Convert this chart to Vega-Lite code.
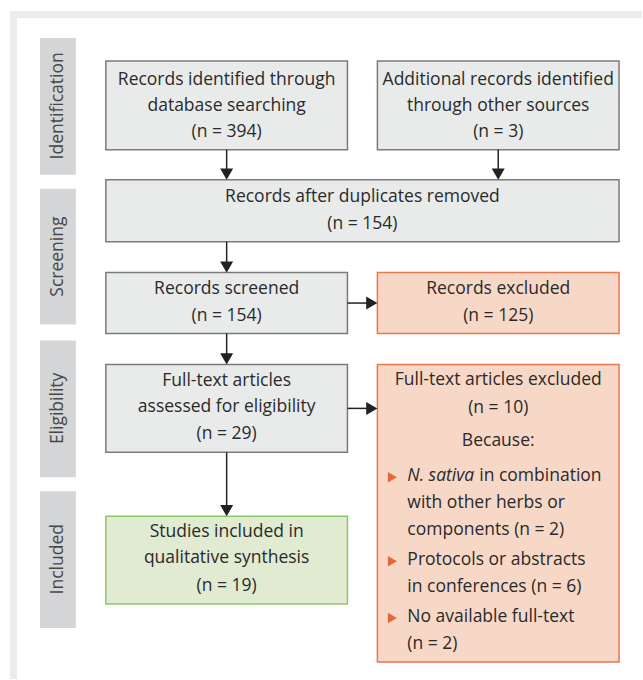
{
  "$schema": "https://vega.github.io/schema/vega-lite/v6.json",
  "autosize": {"type": "fit", "contains": "padding"},
  "width": 643,
  "height": 680,
  "padding": 0,
  "background": "#ffffff",
  "config": {"view": {"stroke": null}},
  "datasets": {
    "rects": [
      {"x1": 10, "x2": 643, "y1": 11, "y2": 680, "kind": "frame"},
      {"x1": 17, "x2": 643, "y1": 18, "y2": 680, "kind": "inner"},
      {"x1": 40, "x2": 76, "y1": 38, "y2": 175, "kind": "side"},
      {"x1": 40, "x2": 76, "y1": 189, "y2": 325, "kind": "side"},
      {"x1": 40, "x2": 76, "y1": 341, "y2": 478, "kind": "side"},
      {"x1": 40, "x2": 76, "y1": 492, "y2": 629, "kind": "side"},
      {"x1": 106, "x2": 348, "y1": 61, "y2": 150, "kind": "gray"},
      {"x1": 378, "x2": 620, "y1": 61, "y2": 150, "kind": "gray"},
      {"x1": 106, "x2": 620, "y1": 180, "y2": 242, "kind": "gray"},
      {"x1": 106, "x2": 348, "y1": 273, "y2": 334, "kind": "gray"},
      {"x1": 378, "x2": 620, "y1": 273, "y2": 334, "kind": "orange"},
      {"x1": 106, "x2": 348, "y1": 365, "y2": 453, "kind": "gray"},
      {"x1": 378, "x2": 620, "y1": 365, "y2": 663, "kind": "orange"},
      {"x1": 106, "x2": 348, "y1": 517, "y2": 605, "kind": "green"}
    ],
    "links": [
      {"x1": 227, "y1": 150, "x2": 227, "y2": 174},
      {"x1": 499, "y1": 150, "x2": 499, "y2": 174},
      {"x1": 227, "y1": 242, "x2": 227, "y2": 267},
      {"x1": 227, "y1": 334, "x2": 227, "y2": 359},
      {"x1": 227, "y1": 453, "x2": 227, "y2": 511},
      {"x1": 348, "y1": 303.5, "x2": 372, "y2": 303.5},
      {"x1": 348, "y1": 409, "x2": 372, "y2": 409}
    ],
    "heads": [
      {"x": 227, "y": 174.4, "dir": "down"},
      {"x": 499, "y": 174.4, "dir": "down"},
      {"x": 227, "y": 267.4, "dir": "down"},
      {"x": 227, "y": 359.4, "dir": "down"},
      {"x": 227, "y": 511.4, "dir": "down"},
      {"x": 372.4, "y": 303.5, "dir": "right"},
      {"x": 372.4, "y": 409, "dir": "right"}
    ],
    "bullets": [
      {"x": 393, "y": 478},
      {"x": 393, "y": 562},
      {"x": 393, "y": 619}
    ],
    "labels": [
      {"x": 227, "y": 80, "label": "Records identified through", "part": "title"},
      {"x": 227, "y": 106, "label": "database searching", "part": "title"},
      {"x": 227, "y": 132, "label": "(n = 394)", "part": "count"},
      {"x": 499, "y": 80, "label": "Additional records identified", "part": "title"},
      {"x": 499, "y": 106, "label": "through other sources", "part": "title"},
      {"x": 499, "y": 132, "label": "(n = 3)", "part": "count"},
      {"x": 363, "y": 197, "label": "Records after duplicates removed", "part": "title"},
      {"x": 363, "y": 224, "label": "(n = 154)", "part": "count"},
      {"x": 227, "y": 289, "label": "Records screened", "part": "title"},
      {"x": 227, "y": 316, "label": "(n = 154)", "part": "count"},
      {"x": 499, "y": 289, "label": "Records excluded", "part": "title"},
      {"x": 499, "y": 316, "label": "(n = 125)", "part": "count"},
      {"x": 227, "y": 382, "label": "Full-text articles", "part": "title"},
      {"x": 227, "y": 408, "label": "assessed for eligibility", "part": "title"},
      {"x": 227, "y": 435, "label": "(n = 29)", "part": "count"},
      {"x": 499, "y": 381, "label": "Full-text articles excluded", "part": "title"},
      {"x": 499, "y": 409, "label": "(n = 10)", "part": "count"},
      {"x": 499, "y": 442, "label": "Because:", "part": "title"},
      {"x": 408, "y": 477, "label": "N. sativa", "part": "species"},
      {"x": 480, "y": 477, "label": "in combination", "part": "reason"},
      {"x": 408, "y": 504, "label": "with other herbs or", "part": "reason"},
      {"x": 408, "y": 531, "label": "components (n = 2)", "part": "reason"},
      {"x": 408, "y": 561, "label": "Protocols or abstracts", "part": "reason"},
      {"x": 408, "y": 588, "label": "in conferences (n = 6)", "part": "reason"},
      {"x": 408, "y": 618, "label": "No available full-text", "part": "reason"},
      {"x": 408, "y": 645, "label": "(n = 2)", "part": "reason"},
      {"x": 227, "y": 533, "label": "Studies included in", "part": "title"},
      {"x": 227, "y": 559, "label": "qualitative synthesis", "part": "title"},
      {"x": 227, "y": 587, "label": "(n = 19)", "part": "count"}
    ],
    "stages": [
      {"x": 58, "y": 106, "label": "Identification"},
      {"x": 58, "y": 257, "label": "Screening"},
      {"x": 58, "y": 409, "label": "Eligibility"},
      {"x": 58, "y": 560, "label": "Included"}
    ]
  },
  "layer": [
    {
      "data": {"name": "rects"},
      "mark": {"type": "rect", "strokeWidth": 1.5},
      "encoding": {
        "x": {"field": "x1", "type": "quantitative", "scale": {"domain": [0, 643], "nice": false, "zero": false}, "axis": null},
        "x2": {"field": "x2"},
        "y": {"field": "y1", "type": "quantitative", "scale": {"domain": [0, 680], "reverse": true, "nice": false, "zero": false}, "axis": null},
        "y2": {"field": "y2"},
        "fill": {"field": "kind", "type": "nominal", "legend": null,
          "scale": {"domain": ["frame", "inner", "side", "gray", "orange", "green"],
                    "range": ["#ebeced", "#ffffff", "#d4d5d6", "#e9eaea", "#f7d8c7", "#e0ebd2"]}},
        "stroke": {"field": "kind", "type": "nominal", "legend": null,
          "scale": {"domain": ["frame", "inner", "side", "gray", "orange", "green"],
                    "range": ["transparent", "transparent", "transparent", "#7b7b7b", "#e9774f", "#8dc766"]}}
      }
    },
    {
      "data": {"name": "links"},
      "mark": {"type": "rule", "color": "#222222", "strokeWidth": 1.5},
      "encoding": {
        "x": {"field": "x1", "type": "quantitative"},
        "x2": {"field": "x2"},
        "y": {"field": "y1", "type": "quantitative"},
        "y2": {"field": "y2"}
      }
    },
    {
      "data": {"name": "heads"},
      "mark": {"type": "point", "filled": true, "color": "#222222", "size": 169, "opacity": 1, "strokeWidth": 0},
      "encoding": {
        "x": {"field": "x", "type": "quantitative"},
        "y": {"field": "y", "type": "quantitative"},
        "shape": {"field": "dir", "type": "nominal", "legend": null,
          "scale": {"domain": ["down", "right"], "range": ["triangle-down", "triangle-right"]}}
      }
    },
    {
      "data": {"name": "bullets"},
      "mark": {"type": "point", "filled": true, "color": "#e5653c", "size": 110, "opacity": 1, "strokeWidth": 0, "shape": "triangle-right"},
      "encoding": {
        "x": {"field": "x", "type": "quantitative"},
        "y": {"field": "y", "type": "quantitative"}
      }
    },
    {
      "data": {"name": "labels"},
      "transform": [{"filter": "datum.part === 'title' || datum.part === 'count'"}],
      "mark": {"type": "text", "align": "center", "baseline": "middle", "font": "Open Sans", "fontSize": 17.5, "color": "#2a2a2a"},
      "encoding": {
        "x": {"field": "x", "type": "quantitative"},
        "y": {"field": "y", "type": "quantitative"},
        "text": {"field": "label"}
      }
    },
    {
      "data": {"name": "labels"},
      "transform": [{"filter": "datum.part === 'reason'"}],
      "mark": {"type": "text", "align": "left", "baseline": "middle", "font": "Open Sans", "fontSize": 17.5, "color": "#2a2a2a"},
      "encoding": {
        "x": {"field": "x", "type": "quantitative"},
        "y": {"field": "y", "type": "quantitative"},
        "text": {"field": "label"}
      }
    },
    {
      "data": {"name": "labels"},
      "transform": [{"filter": "datum.part === 'species'"}],
      "mark": {"type": "text", "align": "left", "baseline": "middle", "font": "Open Sans", "fontSize": 17.5, "fontStyle": "italic", "color": "#2a2a2a"},
      "encoding": {
        "x": {"field": "x", "type": "quantitative"},
        "y": {"field": "y", "type": "quantitative"},
        "text": {"field": "label"}
      }
    },
    {
      "data": {"name": "stages"},
      "mark": {"type": "text", "align": "center", "baseline": "middle", "angle": 270, "font": "Open Sans", "fontSize": 17.5, "color": "#474747"},
      "encoding": {
        "x": {"field": "x", "type": "quantitative"},
        "y": {"field": "y", "type": "quantitative"},
        "text": {"field": "label"}
      }
    }
  ]
}
